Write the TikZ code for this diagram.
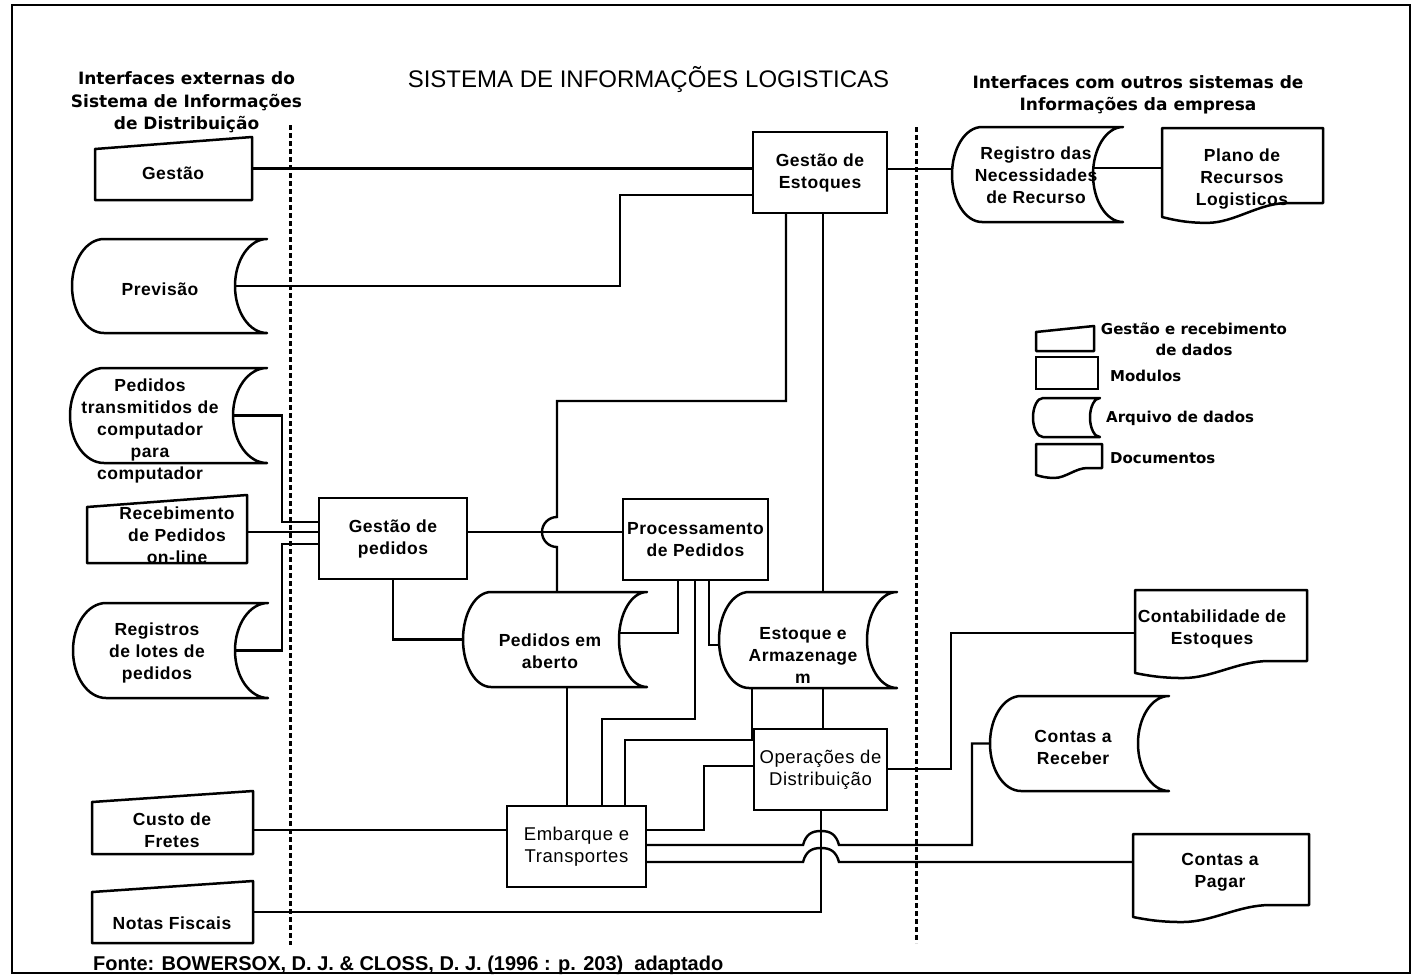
\documentclass[tikz,border=0pt]{standalone}
\usepackage{fontspec}
\setmainfont{Liberation Sans}
\newfontfamily\nodefont{Liberation Sans}[LetterSpace=3]
\newfontfamily\headfont{DejaVu Sans}

% Stored-data symbol: convex left side, concave right side.
% #1 name, #2 left x, #3 top y, #4 right tip x, #5 bottom y, #6 curve depth, #7 text position, #8 text
\newcommand{\storedshape}[8]{%
  \pgfmathsetmacro{\sMid}{(#3+#5)/2}%
  \pgfmathsetmacro{\sUp}{\sMid-0.552*(#5-#3)/2}%
  \pgfmathsetmacro{\sDn}{\sMid+0.552*(#5-#3)/2}%
  \pgfmathsetmacro{\sIn}{#4-#6}%
  \pgfmathsetmacro{\sRc}{#4-0.552*#6}%
  \pgfmathsetmacro{\sLa}{#2+#6}%
  \pgfmathsetmacro{\sLc}{#2+0.448*#6}%
  \pgfmathsetmacro{\sW}{\sIn-#2}%
  \pgfmathsetmacro{\sH}{#5-#3}%
  \pgfmathsetmacro{\sCx}{(#2+\sIn)/2}%
  \draw[outline] (\sLa,#3) -- (#4,#3)
    .. controls (\sRc,#3) and (\sIn,\sUp) .. (\sIn,\sMid)
    .. controls (\sIn,\sDn) and (\sRc,#5) .. (#4,#5)
    -- (\sLa,#5)
    .. controls (\sLc,#5) and (#2,\sDn) .. (#2,\sMid)
    .. controls (#2,\sUp) and (\sLc,#3) .. (\sLa,#3) -- cycle;
  \node[anchorbox, minimum width=\sW pt, minimum height=\sH pt] (#1) at (\sCx,\sMid) {};
  \node[txt] (#1-text) at #7 {#8};
}

% Manual-input symbol: slanted top edge.
% #1 name, #2 left x, #3 top-left y, #4 top-right y, #5 right x, #6 bottom y, #7 text position, #8 text
\newcommand{\manualshape}[8]{%
  \draw[outline] (#2,#3) -- (#5,#4) -- (#5,#6) -- (#2,#6) -- cycle;
  \pgfmathsetmacro{\sW}{#5-#2}%
  \pgfmathsetmacro{\sH}{#6-#4}%
  \pgfmathsetmacro{\sCx}{(#2+#5)/2}%
  \pgfmathsetmacro{\sCy}{(#4+#6)/2}%
  \node[anchorbox, minimum width=\sW pt, minimum height=\sH pt] (#1) at (\sCx,\sCy) {};
  \node[txt] (#1-text) at #7 {#8};
}

% Document symbol: wavy bottom edge.
% #1 name, #2 left x, #3 top y, #4 right x, #5 right bottom y, #6 dip, #7 text position, #8 text
\newcommand{\docshape}[8]{%
  \pgfmathsetmacro{\sW}{#4-#2}%
  \pgfmathsetmacro{\sH}{#5-#3}%
  \pgfmathsetmacro{\sCx}{(#2+#4)/2}%
  \pgfmathsetmacro{\sCy}{(#3+#5)/2}%
  \pgfmathsetmacro{\dA}{#2+0.78*\sW}%
  \pgfmathsetmacro{\dB}{#2+0.60*\sW}%
  \pgfmathsetmacro{\dC}{#2+0.45*\sW}%
  \pgfmathsetmacro{\dD}{#2+0.28*\sW}%
  \pgfmathsetmacro{\dE}{#2+0.15*\sW}%
  \pgfmathsetmacro{\dF}{#2+0.07*\sW}%
  \pgfmathsetmacro{\yLow}{#5+1.42*#6}%
  \pgfmathsetmacro{\yMid}{#5+1.2*#6}%
  \pgfmathsetmacro{\yEnd}{#5+#6}%
  \draw[outline] (#2,#3) -- (#4,#3) -- (#4,#5) -- (\dA,#5)
    .. controls (\dB,#5) and (\dC,\yLow) .. (\dD,\yLow)
    .. controls (\dE,\yLow) and (\dF,\yMid) .. (#2,\yEnd) -- cycle;
  \node[anchorbox, minimum width=\sW pt, minimum height=\sH pt] (#1) at (\sCx,\sCy) {};
  \node[txt] (#1-text) at #7 {#8};
}

\begin{document}
\begin{tikzpicture}[x=1pt,y=-1pt,
  outline/.style={draw=black, line width=2.5pt, line join=round},
  link/.style={draw=black, line width=2.4pt},
  anchorbox/.style={draw=none, inner sep=0pt, outer sep=0pt, rectangle},
  module/.style={draw=black, line width=2.5pt, inner sep=0pt, outer sep=0pt, rectangle},
  txt/.style={inner sep=0pt, align=center, font=\nodefont\bfseries\fontsize{17.5}{22}\selectfont},
  txtreg/.style={inner sep=0pt, align=center, font=\nodefont\fontsize{18.5}{22}\selectfont},
  head/.style={inner sep=0pt, align=center, font=\headfont\bfseries\fontsize{17}{22.5}\selectfont},
  legendtxt/.style={inner sep=0pt, align=center, font=\headfont\bfseries\fontsize{15}{21}\selectfont},
  divider/.style={draw=black, line width=3pt, dash pattern=on 5pt off 3pt}
]
\useasboundingbox (0,0) rectangle (1416,977);
\fill[white] (0,0) rectangle (1416,977);
\draw[line width=2.8pt] (12,5) rectangle (1410,973);

% headings
\node[inner sep=0pt, font=\fontsize{24}{28}\selectfont] (title) at (648.5,80) {SISTEMA DE INFORMAÇÕES LOGISTICAS};
\node[head] (head-left) at (186.5,102.5) {Interfaces externas do\\Sistema de Informações\\de Distribuição};
\node[head] (head-right) at (1138,95) {Interfaces com outros sistemas de\\Informações da empresa};

% boundaries of the system
\coordinate (divl-top) at (290,125);
\coordinate (divl-bot) at (290,945);
\coordinate (divr-top) at (916,127);
\coordinate (divr-bot) at (916,943);
\draw[divider] (divl-top) -- (divl-bot);
\draw[divider] (divr-top) -- (divr-bot);

% external interfaces
\manualshape{ges}{95}{149}{137}{252}{200}{(173,173)}{Gestão}
\storedshape{prev}{72}{239}{267}{333}{32}{(160,289)}{Previsão}
\storedshape{ptc}{70}{368}{267}{463}{34}{(150,430.5)}{Pedidos\\transmitidos de\\computador\\para\\computador}
\manualshape{rec}{87}{507}{495}{247}{563}{(177,535.5)}{Recebimento\\de Pedidos\\on-line}
\storedshape{rlp}{73}{603}{268}{698}{33}{(157,653)}{Registros\\de lotes de\\pedidos}
\manualshape{cf}{92}{802}{791}{253}{854}{(172,830)}{Custo de\\Fretes}
\manualshape{nf}{92}{892}{881}{253}{943}{(172,923)}{Notas Fiscais}

% modules
\node[module, txt, minimum width=134pt, minimum height=81pt] (gde) at (820,172.5) {Gestão de\\Estoques};
\node[module, txt, minimum width=148pt, minimum height=81pt] (gp) at (393,538.5) {Gestão de\\pedidos};
\node[module, txt, minimum width=145pt, minimum height=81pt] (proc) at (695.5,539.5) {Processamento\\de Pedidos};
\node[module, txtreg, minimum width=133pt, minimum height=81pt] (op) at (820.5,769.5) {Operações de\\Distribuição};
\node[module, txtreg, minimum width=139pt, minimum height=81pt] (emb) at (576.5,846.5) {Embarque e\\Transportes};

% internal files
\storedshape{pa}{463}{592}{647}{687}{28}{(550,651)}{Pedidos em\\aberto}
\storedshape{est}{719}{592}{897}{688}{30}{(803,655)}{Estoque e\\Armazenage\\m}

% other company systems
\storedshape{reg}{952}{127}{1123}{222}{30}{(1036,175)}{Registro das\\Necessidades\\de Recurso}
\docshape{plano}{1162}{128}{1323}{203}{14}{(1242,179)}{Plano de\\Recursos\\Logisticos}
\docshape{cont}{1135}{590}{1307}{661}{12}{(1212,628.5)}{Contabilidade de\\Estoques}
\storedshape{cr}{990}{696}{1169}{791}{31}{(1073,747)}{Contas a\\Receber}
\docshape{cp}{1133}{834}{1309}{905}{12}{(1220,872)}{Contas a\\Pagar}

% legend
\manualshape{lgmanual}{1036}{332}{326}{1094}{351}{(1065,341)}{}
\node[module, minimum width=62pt, minimum height=32pt] (lgmod) at (1067,373) {};
\storedshape{lgstored}{1033}{398}{1100}{437}{10}{(1062,418)}{}
\docshape{lgdoc}{1036}{444}{1102}{468}{7}{(1069,456)}{}
\node[legendtxt] (lg1) at (1194,339.5) {Gestão e recebimento\\de dados};
\node[legendtxt, anchor=west] (lg2) at (1110,376) {Modulos};
\node[legendtxt, anchor=west] (lg3) at (1106,418) {Arquivo de dados};
\node[legendtxt, anchor=west] (lg4) at (1110,458) {Documentos};

% connections
\draw[link] (ges.east) -- (ges.east -| gde.west);
\draw[link] (prev.east) -| (620,195) -- (gde.west |- 620,195);
\draw[link] (gde.east |- 0,169) -- (reg.west |- 0,169);
\draw[link] (reg.east |- 0,168) -- (plano.west |- 0,168);
\draw[link] (ptc.east) -| (282,522) -- (gp.west |- 0,522);
\draw[link] (rec.east |- 0,532) -- (gp.west |- 0,532);
\draw[link] (rlp.east) -| (282,544) -- (gp.west |- 0,544);
\draw[link] (gp.south) |- (pa.west);
\draw[link] (gp.east |- 0,532) -- (proc.west |- 0,532);
\draw[link] (gde.south -| 786,0) -- (786,401) -- (557,401) -- (557,517)
   .. controls (548.7,517) and (542,523.7) .. (542,532)
   .. controls (542,540.3) and (548.7,547) .. (557,547) -- (pa.north -| 557,0);
\draw[link] (gde.south -| 823,0) -- (est.north -| 823,0);
\draw[link] (proc.south -| 678,0) |- (pa.east |- 0,633);
\draw[link] (proc.south -| 695,0) -- (695,719) -- (602,719) -- (emb.north -| 602,0);
\draw[link] (proc.south -| 709,0) |- (est.west |- 0,645);
\draw[link] (pa.south -| 567,0) -- (emb.north -| 567,0);
\draw[link] (est.south -| 752,0) -- (752,740) -- (625,740) -- (emb.north -| 625,0);
\draw[link] (est.south -| 823,0) -- (op.north -| 823,0);
\draw[link] (op.west |- 0,766) -| (704,830) -- (emb.east |- 0,830);
\draw[link] (op.east |- 0,769) -| (951,633) -- (cont.west |- 0,633);
\draw[link] (op.south -| 821,0) |- (nf.east);
\draw[link] (cf.east |- 0,830) -- (emb.west |- 0,830);
\draw[link] (emb.east |- 0,845) -- (803,845)
   .. controls (806,834) and (812,831) .. (821,831)
   .. controls (830,831) and (836,834) .. (839,845) -- (972,845) |- (cr.west);
\draw[link] (emb.east |- 0,862) -- (803,862)
   .. controls (806,851) and (812,848) .. (821,848)
   .. controls (830,848) and (836,851) .. (839,862) -- (cp.west |- 0,862);

% source
\node[inner sep=0pt, anchor=west, font=\bfseries\fontsize{20}{24}\selectfont] (src) at (93,965) {Fonte: BOWERSOX, D. J. \& CLOSS, D. J. (1996 : p. 203)\ \ adaptado};
\end{tikzpicture}
\end{document}
